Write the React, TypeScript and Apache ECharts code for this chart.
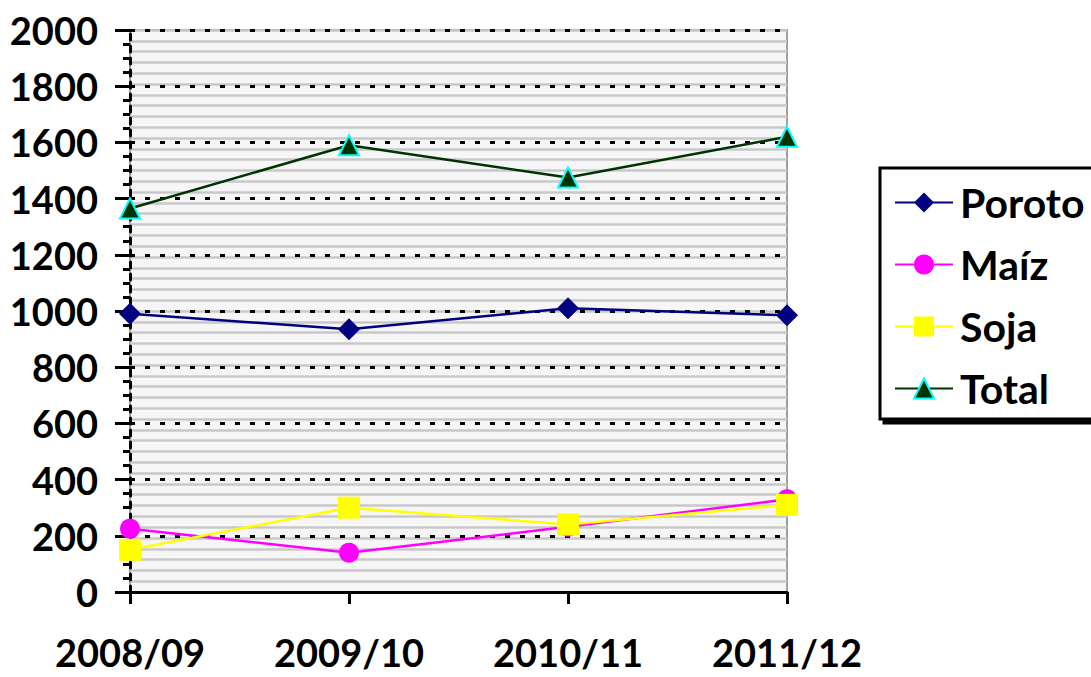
import React, { useEffect, useRef } from "react";
import * as echarts from "echarts";

const categories = ["2008/09", "2009/10", "2010/11", "2011/12"];
const poroto = [990, 935, 1010, 985];
const maiz = [225, 140, 232, 330];
const soja = [150, 300, 240, 310];
const total = [1365, 1590, 1475, 1620];

const FONT = "Lato";

export default function App() {
  const ref = useRef<HTMLDivElement>(null);
  useEffect(() => {
    if (!ref.current) return;
    const chart = echarts.init(ref.current, undefined, { renderer: "svg" });
    const stripeInterval = 2000 / 52;
    chart.setOption({
      animation: false,
      backgroundColor: "#ffffff",
      grid: {
        left: 130,
        right: 304,
        top: 30,
        bottom: 85,
        show: true,
        backgroundColor: "#f6f6f6",
        borderColor: "#a0a0a0",
        borderWidth: 2,
      },
      legend: {
        orient: "vertical",
        left: 880,
        top: 168,
        padding: [14, 60, 10, 14],
        itemGap: 21,
        itemWidth: 58,
        itemHeight: 25,
        backgroundColor: "#ffffff",
        borderColor: "#000000",
        borderWidth: 3,
        borderRadius: 0,
        shadowColor: "#000000",
        shadowBlur: 0,
        shadowOffsetX: 4,
        shadowOffsetY: 4,
        textStyle: {
          fontFamily: FONT,
          fontWeight: "bold",
          fontSize: 41,
          color: "#000000",
          padding: [0, 0, 0, 2],
        },
        data: ["Poroto", "Maíz", "Soja", "Total"],
      },
      xAxis: {
        type: "category",
        data: categories,
        boundaryGap: false,
        axisLine: { show: true, lineStyle: { color: "#000000", width: 3 } },
        axisTick: { show: true, alignWithLabel: true, length: 12, lineStyle: { color: "#000000", width: 3 } },
        axisLabel: {
          margin: 41,
          fontFamily: FONT,
          fontWeight: "bold",
          fontSize: 38,
          lineHeight: 38,
          color: "#000000",
        },
        splitLine: { show: false },
      },
      yAxis: [
        {
          type: "value",
          min: 0,
          max: 2000,
          interval: 200,
          z: 3,
          axisLine: { show: true, lineStyle: { color: "#000000", width: 3, type: [6, 6] } },
          axisTick: { show: true, length: 15, lineStyle: { color: "#000000", width: 3 } },
          minorTick: { show: true, splitNumber: 4, length: 7, lineStyle: { color: "#000000", width: 3 } },
          axisLabel: {
            margin: 32,
            fontFamily: FONT,
            fontWeight: "bold",
            fontSize: 38,
            color: "#000000",
            formatter: (v: number) => String(v),
          },
          splitLine: { show: true, lineStyle: { color: "#000000", width: 3, type: [5, 10] } },
        },
        {
          type: "value",
          min: 0,
          max: 2000,
          interval: stripeInterval,
          position: "left",
          z: 0,
          axisLine: { show: false },
          axisTick: { show: false },
          axisLabel: { show: false },
          splitLine: { show: true, lineStyle: { color: "#c8c8c8", width: 2.5 } },
        },
      ],
      series: [
        {
          name: "Poroto",
          type: "line",
          data: poroto,
          symbol: "diamond",
          symbolSize: 22,
          z: 5,
          lineStyle: { color: "#000080", width: 2.5 },
          itemStyle: { color: "#000080" },
        },
        {
          name: "Maíz",
          type: "line",
          data: maiz,
          symbol: "circle",
          symbolSize: 20,
          z: 5,
          lineStyle: { color: "#ff00ff", width: 2.5 },
          itemStyle: { color: "#ff00ff" },
        },
        {
          name: "Soja",
          type: "line",
          data: soja,
          symbol: "rect",
          symbolSize: 22,
          z: 6,
          lineStyle: { color: "#ffff00", width: 2.5 },
          itemStyle: { color: "#ffff00" },
        },
        {
          name: "Total",
          type: "line",
          data: total,
          symbol: "triangle",
          symbolSize: 20,
          z: 5,
          lineStyle: { color: "#003300", width: 2.5 },
          itemStyle: { color: "#003300", borderColor: "#00ffff", borderWidth: 2 },
        },
      ],
    });
    return () => chart.dispose();
  }, []);
  return <div ref={ref} style={{ width: 1091, height: 677, position: "absolute", left: 0, top: 0 }} />;
}
